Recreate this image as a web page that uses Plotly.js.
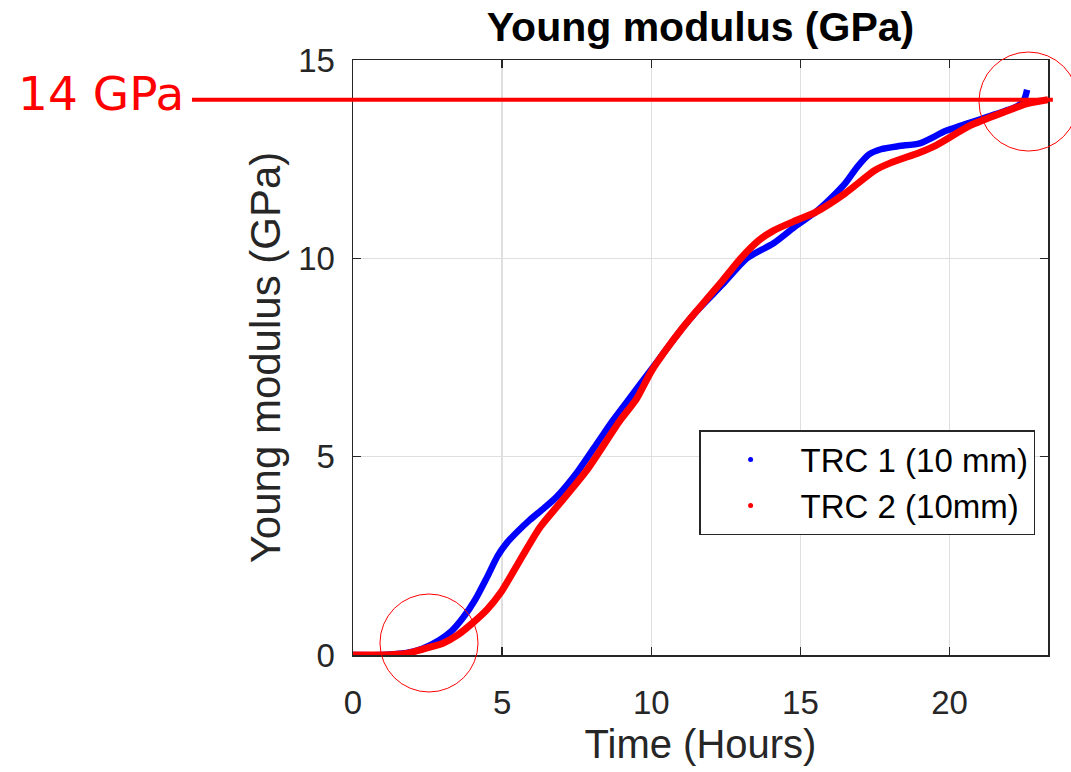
<!DOCTYPE html>
<html>
<head>
<meta charset="utf-8">
<script src="https://cdn.plot.ly/plotly-3.0.1.min.js"></script>
<style>
  html, body { margin: 0; padding: 0; background: #ffffff; }
  #chart { width: 1071px; height: 772px; }
</style>
</head>
<body>
<div id="chart"></div>
<script>
// Elastic (Young) modulus over curing time for two TRC specimens
const trc1Hours = [0, 1.0, 1.8, 2.3, 2.9, 3.3, 3.7, 4.1, 4.5, 4.85, 5.15, 5.5, 5.92, 6.4, 6.82, 7.49, 8.26, 8.7, 9.2, 10.0, 10.5, 11.0, 11.55, 12.4, 13.2, 14.1, 14.87, 15.5, 16.0, 16.5, 16.9, 17.3, 17.7, 18.3, 19.0, 19.9, 21.2, 22.3, 22.5, 22.6];
const trc1Modulus = [0, 0.0, 0.05, 0.15, 0.38, 0.6, 0.95, 1.4, 1.97, 2.5, 2.82, 3.1, 3.4, 3.7, 3.98, 4.58, 5.42, 5.9, 6.4, 7.2, 7.7, 8.2, 8.69, 9.35, 10.0, 10.38, 10.83, 11.16, 11.5, 11.89, 12.3, 12.62, 12.75, 12.83, 12.9, 13.22, 13.55, 13.85, 14.0, 14.25];

const trc2Hours = [0, 1.0, 1.8, 2.35, 3.0, 3.5, 4.0, 4.5, 4.94, 5.6, 6.27, 6.94, 7.84, 8.94, 9.5, 10.0, 10.5, 11.0, 11.55, 12.4, 13.0, 13.6, 14.1, 14.87, 15.5, 16.5, 17.5, 18.0, 19.0, 19.55, 20.7, 21.8, 22.6, 23.3];
const trc2Modulus = [0, 0.0, 0.04, 0.15, 0.29, 0.5, 0.8, 1.15, 1.56, 2.39, 3.22, 3.83, 4.66, 5.9, 6.45, 7.15, 7.7, 8.2, 8.7, 9.45, 10.0, 10.45, 10.7, 10.96, 11.16, 11.64, 12.22, 12.4, 12.67, 12.85, 13.35, 13.68, 13.9, 14.0];

const seriesNames = ['TRC 1 (10 mm)', 'TRC 2 (10mm)'];
const seriesColors = ['#0000ff', '#ff0000'];

const xTicks = [0, 5, 10, 15, 20];
const yTicks = [0, 5, 10, 15];

// Reference level marked on the chart
const refLevel = 14;
const refLabel = '14 GPa';

const FONT = 'Liberation Sans, Arial, sans-serif';
const INK = '#262626';

const traces = [
  {
    x: trc1Hours, y: trc1Modulus, type: 'scatter', mode: 'lines',
    line: { color: seriesColors[0], width: 6.5, shape: 'spline', smoothing: 0.7 },
    showlegend: false, hoverinfo: 'skip'
  },
  {
    x: trc2Hours, y: trc2Modulus, type: 'scatter', mode: 'lines',
    line: { color: seriesColors[1], width: 7, shape: 'spline', smoothing: 0.7 },
    showlegend: false, hoverinfo: 'skip'
  },
  // dot markers used only as legend keys
  {
    x: [null], y: [null], type: 'scatter', mode: 'markers', name: seriesNames[0],
    marker: { color: seriesColors[0], size: 5 }
  },
  {
    x: [null], y: [null], type: 'scatter', mode: 'markers', name: seriesNames[1],
    marker: { color: seriesColors[1], size: 5 }
  }
];

const layout = {
  width: 1071, height: 772,
  paper_bgcolor: '#ffffff', plot_bgcolor: '#ffffff',
  margin: { l: 353, r: 23, t: 60, b: 117, pad: 0 },
  font: { family: FONT, color: INK },
  title: {
    text: '<b>Young modulus (GPa)</b>',
    font: { family: FONT, size: 41, color: '#000000' },
    x: 0.5, xref: 'paper', xanchor: 'center',
    y: 1 - 27 / 772, yref: 'container', yanchor: 'middle'
  },
  xaxis: {
    range: [0, 23.3],
    tickvals: xTicks, ticktext: xTicks.map(String),
    ticks: 'inside', ticklen: 8, tickwidth: 1.5, tickcolor: INK,
    showline: true, linecolor: INK, linewidth: 1.5, mirror: 'ticks',
    showgrid: true, gridcolor: '#dfdfdf', gridwidth: 1.5,
    zeroline: false,
    tickfont: { family: FONT, size: 33, color: INK },
    ticklabelstandoff: 18,
    title: { text: 'Time (Hours)', font: { family: FONT, size: 40, color: INK }, standoff: 10 }
  },
  yaxis: {
    range: [0, 15],
    tickvals: yTicks, ticktext: yTicks.map(String),
    ticks: 'inside', ticklen: 8, tickwidth: 1.5, tickcolor: INK,
    showline: true, linecolor: INK, linewidth: 1.5, mirror: 'ticks',
    showgrid: true, gridcolor: '#dfdfdf', gridwidth: 1.5,
    zeroline: false,
    tickfont: { family: FONT, size: 33, color: INK },
    ticklabelstandoff: 10,
    title: { text: 'Young modulus (GPa)', font: { family: FONT, size: 42, color: INK }, standoff: 4 }
  },
  legend: {
    x: 0.498, y: 0.378, xanchor: 'left', yanchor: 'top',
    bgcolor: '#ffffff', bordercolor: INK, borderwidth: 1.5,
    font: { family: FONT, size: 33, color: '#000000' },
    itemwidth: 90, tracegroupgap: 0
  },
  shapes: [
    // horizontal reference line at 14 GPa, running out into the left margin
    {
      type: 'line', xref: 'paper', yref: 'y',
      x0: -0.2317, x1: 1.007, y0: refLevel, y1: refLevel,
      line: { color: '#ff0000', width: 4 }, layer: 'above'
    },
    // highlight around the onset of stiffening
    {
      type: 'circle', xref: 'paper', yref: 'paper',
      x0: 0.0388, x1: 0.1799, y0: -0.0622, y1: 0.1025,
      line: { color: '#ff0000', width: 1 }, layer: 'above'
    },
    // highlight where both curves reach 14 GPa
    {
      type: 'circle', xref: 'paper', yref: 'paper',
      x0: 0.9007, x1: 1.0432, y0: 0.847, y1: 1.0134,
      line: { color: '#ff0000', width: 1 }, layer: 'above'
    }
  ],
  annotations: [
    {
      text: refLabel, xref: 'paper', yref: 'y',
      x: -0.2403, y: refLevel, xanchor: 'right', yanchor: 'middle',
      showarrow: false, yshift: 6,
      font: { family: 'DejaVu Sans, Verdana, sans-serif', size: 47, color: '#ff0000' }
    }
  ]
};

Plotly.newPlot('chart', traces, layout, { displayModeBar: false, staticPlot: true });
</script>
</body>
</html>
